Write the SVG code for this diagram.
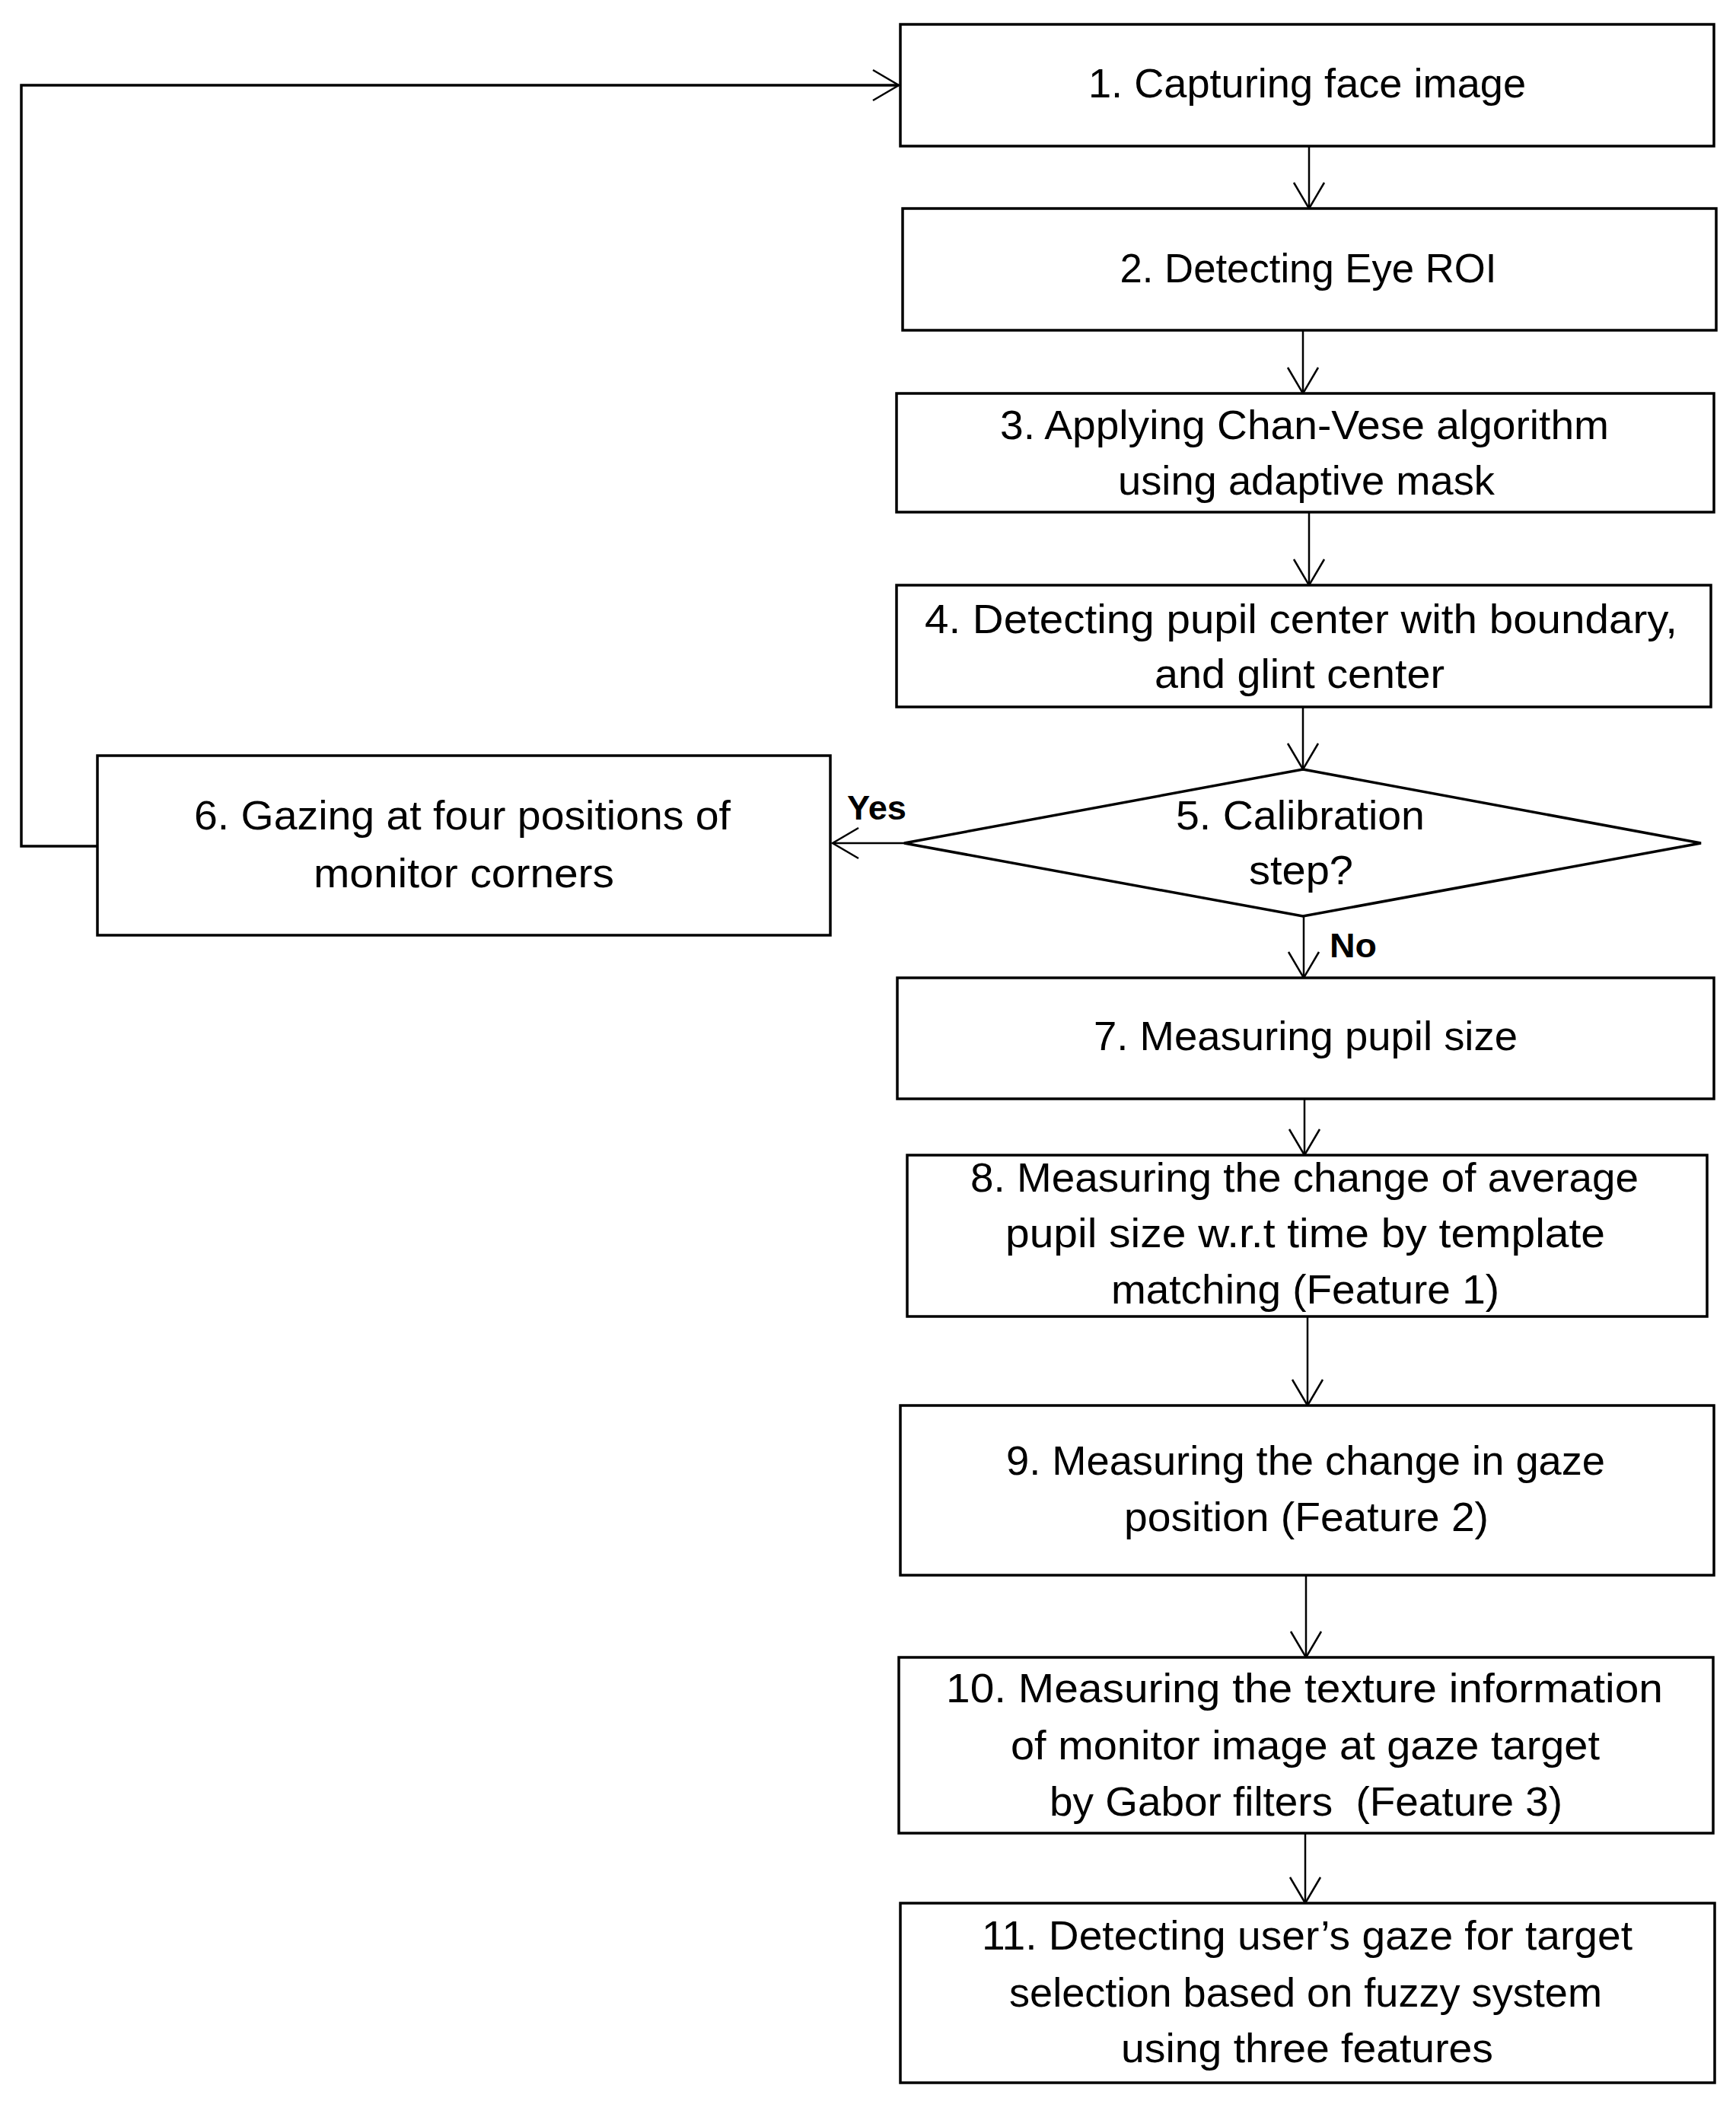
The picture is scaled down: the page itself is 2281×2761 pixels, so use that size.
<svg xmlns="http://www.w3.org/2000/svg" width="2281" height="2761" viewBox="0 0 2281 2761">
<style>
.box{fill:#fff;stroke:#000;stroke-width:3.5}
.t{font-family:"Liberation Sans",Arial,sans-serif;font-size:54px;fill:#000;text-anchor:middle}
.lbl{font-family:"Liberation Sans",Arial,sans-serif;font-size:45px;font-weight:bold;fill:#000}
.c{fill:none;stroke:#000;stroke-width:2.5}
.loop{fill:none;stroke:#000;stroke-width:3.5}
</style>
<defs>
<marker id="ah" markerUnits="userSpaceOnUse" viewBox="-38 -24 42 48" refX="0" refY="0" markerWidth="42" markerHeight="48" orient="auto">
<path d="M-34,-20 L0,0 L-34,20" fill="none" stroke="#000" stroke-width="2.5"/>
</marker>
</defs>
<rect width="2281" height="2761" fill="#fff"/>
<g id="connectors">
<polyline class="loop" points="128,1112 28,1112 28,112 1181,112" marker-end="url(#ah)"/>
<line class="c" x1="1720" y1="192" x2="1720" y2="274" marker-end="url(#ah)"/>
<line class="c" x1="1712" y1="434" x2="1712" y2="517" marker-end="url(#ah)"/>
<line class="c" x1="1720" y1="673" x2="1720" y2="769" marker-end="url(#ah)"/>
<line class="c" x1="1712" y1="929" x2="1712" y2="1011" marker-end="url(#ah)"/>
<line class="c" x1="1188" y1="1108" x2="1094" y2="1108" marker-end="url(#ah)"/>
<line class="c" x1="1713" y1="1204" x2="1713" y2="1285" marker-end="url(#ah)"/>
<line class="c" x1="1714" y1="1444" x2="1714" y2="1518" marker-end="url(#ah)"/>
<line class="c" x1="1718" y1="1730" x2="1718" y2="1847" marker-end="url(#ah)"/>
<line class="c" x1="1716" y1="2070" x2="1716" y2="2178" marker-end="url(#ah)"/>
<line class="c" x1="1715" y1="2409" x2="1715" y2="2501" marker-end="url(#ah)"/>
<text class="lbl" x="1113" y="1077" textLength="78" lengthAdjust="spacingAndGlyphs">Yes</text>
<text class="lbl" x="1747" y="1258" textLength="62" lengthAdjust="spacingAndGlyphs">No</text>
</g>
<g id="n1">
<rect class="box" x="1183" y="32" width="1069" height="160"/>
<text class="t" x="1717.5" y="128" textLength="575" lengthAdjust="spacingAndGlyphs">1. Capturing face image</text>
</g>
<g id="n2">
<rect class="box" x="1186" y="274" width="1069" height="160"/>
<text class="t" x="1719" y="371" textLength="495" lengthAdjust="spacingAndGlyphs">2. Detecting Eye ROI</text>
</g>
<g id="n3">
<rect class="box" x="1178" y="517" width="1074" height="156"/>
<text class="t" x="1714" y="577" textLength="800" lengthAdjust="spacingAndGlyphs">3. Applying Chan-Vese algorithm</text>
<text class="t" x="1716.5" y="650" textLength="495" lengthAdjust="spacingAndGlyphs">using adaptive mask</text>
</g>
<g id="n4">
<rect class="box" x="1178" y="769" width="1070" height="160"/>
<text class="t" x="1709.5" y="832" textLength="989" lengthAdjust="spacingAndGlyphs">4. Detecting pupil center with boundary,</text>
<text class="t" x="1707.5" y="904" textLength="381" lengthAdjust="spacingAndGlyphs">and glint center</text>
</g>
<g id="n5">
<polygon class="box" points="1712,1011 2235,1108 1712,1204 1188,1108"/>
<text class="t" x="1708.5" y="1090" textLength="327" lengthAdjust="spacingAndGlyphs">5. Calibration</text>
<text class="t" x="1709.5" y="1162" textLength="137" lengthAdjust="spacingAndGlyphs">step?</text>
</g>
<g id="n6">
<rect class="box" x="128" y="993" width="963" height="236"/>
<text class="t" x="607.5" y="1090" textLength="705" lengthAdjust="spacingAndGlyphs">6. Gazing at four positions of</text>
<text class="t" x="609.5" y="1166" textLength="395" lengthAdjust="spacingAndGlyphs">monitor corners</text>
</g>
<g id="n7">
<rect class="box" x="1179" y="1285" width="1073" height="159"/>
<text class="t" x="1715.5" y="1380" textLength="557" lengthAdjust="spacingAndGlyphs">7. Measuring pupil size</text>
</g>
<g id="n8">
<rect class="box" x="1192" y="1518" width="1051" height="212"/>
<text class="t" x="1714" y="1566" textLength="878" lengthAdjust="spacingAndGlyphs">8. Measuring the change of average</text>
<text class="t" x="1715" y="1639" textLength="788" lengthAdjust="spacingAndGlyphs">pupil size w.r.t time by template</text>
<text class="t" x="1715" y="1713" textLength="510" lengthAdjust="spacingAndGlyphs">matching (Feature 1)</text>
</g>
<g id="n9">
<rect class="box" x="1183" y="1847" width="1069" height="223"/>
<text class="t" x="1715.5" y="1938" textLength="787" lengthAdjust="spacingAndGlyphs">9. Measuring the change in gaze</text>
<text class="t" x="1716.5" y="2012" textLength="479" lengthAdjust="spacingAndGlyphs">position (Feature 2)</text>
</g>
<g id="n10">
<rect class="box" x="1181" y="2178" width="1070" height="231"/>
<text class="t" x="1714" y="2237" textLength="942" lengthAdjust="spacingAndGlyphs">10. Measuring the texture information</text>
<text class="t" x="1715" y="2312" textLength="774" lengthAdjust="spacingAndGlyphs">of monitor image at gaze target</text>
<text class="t" x="1716" y="2386" textLength="674" lengthAdjust="spacingAndGlyphs">by Gabor filters &#160;(Feature 3)</text>
</g>
<g id="n11">
<rect class="box" x="1183" y="2501" width="1070" height="236"/>
<text class="t" x="1717.5" y="2562" textLength="855" lengthAdjust="spacingAndGlyphs">11. Detecting user’s gaze for target</text>
<text class="t" x="1715.5" y="2637" textLength="779" lengthAdjust="spacingAndGlyphs">selection based on fuzzy system</text>
<text class="t" x="1717.5" y="2710" textLength="489" lengthAdjust="spacingAndGlyphs">using three features</text>
</g>
</svg>
